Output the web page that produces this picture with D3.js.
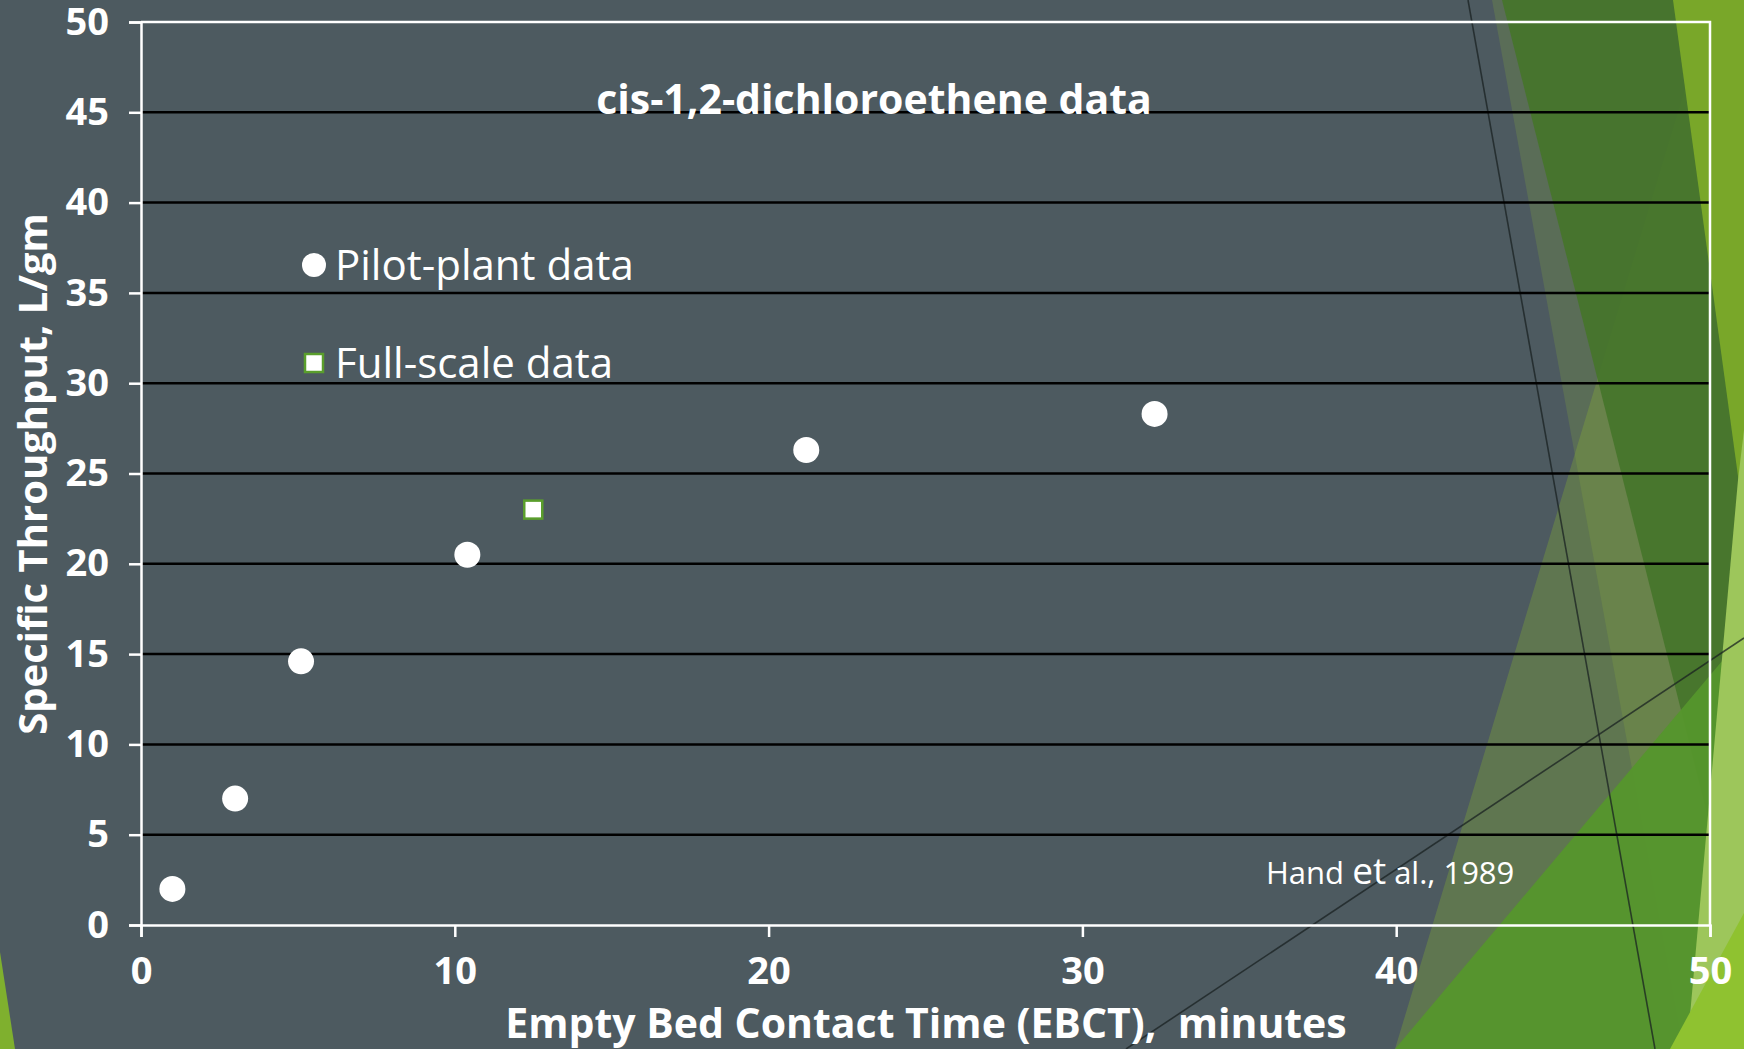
<!DOCTYPE html>
<html>
<head>
<meta charset="utf-8">
<script src="https://cdn.jsdelivr.net/npm/d3@7"></script>
<style>
  html, body { margin: 0; padding: 0; background: #4d5a60; overflow: hidden; }
  text { font-family: "Open Sans", "DejaVu Sans", sans-serif; fill: #ffffff; }
</style>
</head>
<body>
<div id="my_dataviz"></div>
<script>
// chart data
var pilotEbct = [1.0, 3.0, 5.1, 10.4, 21.2, 32.3];
var pilotThroughput = [2.0, 7.0, 14.6, 20.5, 26.3, 28.3];
var fullEbct = [12.5];
var fullThroughput = [23.0];
var xTickValues = [0, 10, 20, 30, 40, 50];
var yTickValues = [0, 5, 10, 15, 20, 25, 30, 35, 40, 45, 50];

var width = 1744, height = 1049;
var margin = {top: 22, right: 34, bottom: 124, left: 141};

var svg = d3.select("#my_dataviz")
    .append("svg")
    .attr("width", width)
    .attr("height", height);

svg.append("rect")
    .attr("width", width)
    .attr("height", height)
    .attr("fill", "#4d5a60");

// theme decoration on the right side (translucent green facets)
var deco = svg.append("g");
var facets = [
    {pts: [[1395, 1049], [1712, 0], [1744, 0], [1744, 1049]], fill: "#8abb2a", op: 0.3},
    {pts: [[1492, 0], [1744, 0], [1744, 1049], [1683, 1049]], fill: "#93b939", op: 0.2},
    {pts: [[1502, 0], [1744, 0], [1744, 960]], fill: "#45752a", op: 0.92},
    {pts: [[1395, 1049], [1744, 635], [1744, 1049]], fill: "#55962c", op: 0.95},
    {pts: [[1673, 0], [1744, 0], [1744, 520]], fill: "#79a729", op: 1},
    {pts: [[1738, 480], [1744, 430], [1744, 1049], [1687, 1049]], fill: "#9dc65b", op: 1},
    {pts: [[1744, 913], [1744, 1049], [1670, 1049]], fill: "#8fc230", op: 1},
    {pts: [[0, 952], [15, 1049], [0, 1049]], fill: "#7fb02e", op: 1}
];
deco.selectAll("polygon")
    .data(facets)
    .enter()
    .append("polygon")
    .attr("points", function (d) { return d.pts.join(" "); })
    .attr("fill", function (d) { return d.fill; })
    .attr("fill-opacity", function (d) { return d.op; });

deco.append("line")
    .attr("x1", 1468).attr("y1", 0).attr("x2", 1655).attr("y2", 1049)
    .attr("stroke", "#1a2222").attr("stroke-opacity", 0.75).attr("stroke-width", 1.6);
deco.append("line")
    .attr("x1", 1126).attr("y1", 1049).attr("x2", 1744).attr("y2", 638)
    .attr("stroke", "#1a2222").attr("stroke-opacity", 0.75).attr("stroke-width", 1.6);

// scales
var x = d3.scaleLinear()
    .domain([0, 50])
    .range([margin.left, width - margin.right]);
var y = d3.scaleLinear()
    .domain([0, 50])
    .range([height - margin.bottom, margin.top]);

// horizontal gridlines
svg.append("g")
    .selectAll("line")
    .data(yTickValues.filter(function (v) { return v > 0 && v < 50; }))
    .enter()
    .append("line")
    .attr("x1", x(0))
    .attr("x2", x(50))
    .attr("y1", function (d) { return y(d); })
    .attr("y2", function (d) { return y(d); })
    .attr("stroke", "#000000")
    .attr("stroke-width", 2.5);

// plot frame (top and right)
svg.append("path")
    .attr("d", "M" + x(0) + "," + y(50) + "H" + x(50) + "V" + y(0))
    .attr("fill", "none")
    .attr("stroke", "#ffffff")
    .attr("stroke-width", 2.5);

// axes
var xAxis = svg.append("g")
    .attr("transform", "translate(0," + y(0) + ")")
    .call(d3.axisBottom(x).tickValues(xTickValues).tickSize(12).tickPadding(20));
var yAxis = svg.append("g")
    .attr("transform", "translate(" + x(0) + ",0)")
    .call(d3.axisLeft(y).tickValues(yTickValues).tickSize(12).tickPadding(20));

[xAxis, yAxis].forEach(function (g) {
    g.select(".domain").attr("stroke", "#ffffff").attr("stroke-width", 2.5);
    g.selectAll(".tick line").attr("stroke", "#ffffff").attr("stroke-width", 2.5);
    g.selectAll(".tick text")
        .attr("fill", "#ffffff")
        .style("font-family", "'Open Sans', sans-serif")
        .style("font-weight", "bold")
        .style("font-size", "38px");
});
xAxis.selectAll(".tick text").attr("dy", "0.71em");

// data points
svg.append("g")
    .selectAll("circle")
    .data(pilotEbct)
    .enter()
    .append("circle")
    .attr("cx", function (d) { return x(d); })
    .attr("cy", function (d, i) { return y(pilotThroughput[i]); })
    .attr("r", 13)
    .attr("fill", "#ffffff");

svg.append("g")
    .selectAll("rect")
    .data(fullEbct)
    .enter()
    .append("rect")
    .attr("x", function (d) { return x(d) - 9; })
    .attr("y", function (d, i) { return y(fullThroughput[i]) - 9; })
    .attr("width", 18)
    .attr("height", 18)
    .attr("fill", "#ffffff")
    .attr("stroke", "#5a9e2c")
    .attr("stroke-width", 2.5);

// legend
var legend = svg.append("g");
legend.append("circle")
    .attr("cx", 314).attr("cy", 265).attr("r", 12)
    .attr("fill", "#ffffff");
legend.append("text")
    .attr("x", 335).attr("y", 265).attr("dy", "0.35em")
    .style("font-size", "42px")
    .text("Pilot-plant data");
legend.append("rect")
    .attr("x", 305).attr("y", 354).attr("width", 18).attr("height", 18)
    .attr("fill", "#ffffff").attr("stroke", "#5a9e2c").attr("stroke-width", 2.5);
legend.append("text")
    .attr("x", 335).attr("y", 363).attr("dy", "0.35em")
    .style("font-size", "42px")
    .text("Full-scale data");

// title and axis titles
svg.append("text")
    .attr("x", 874).attr("y", 100).attr("dy", "0.35em")
    .style("text-anchor", "middle")
    .style("font-weight", "bold")
    .style("font-size", "41px")
    .text("cis-1,2-dichloroethene data");

svg.append("text")
    .attr("x", 926).attr("y", 1024).attr("dy", "0.35em")
    .style("text-anchor", "middle")
    .style("font-weight", "bold")
    .style("font-size", "41px")
    .style("white-space", "pre")
    .text("Empty Bed Contact Time (EBCT),  minutes");

svg.append("text")
    .attr("transform", "translate(33,474) rotate(-90)")
    .attr("dy", "0.35em")
    .style("text-anchor", "middle")
    .style("font-weight", "bold")
    .style("font-size", "40px")
    .text("Specific Throughput, L/gm");

// citation
var cite = svg.append("text")
    .attr("x", 1266).attr("y", 873).attr("dy", "0.35em")
    .style("font-size", "31px");
cite.append("tspan").text("Hand ");
cite.append("tspan").style("font-size", "37px").text("et");
cite.append("tspan").text(" al., 1989");
</script>
</body>
</html>
